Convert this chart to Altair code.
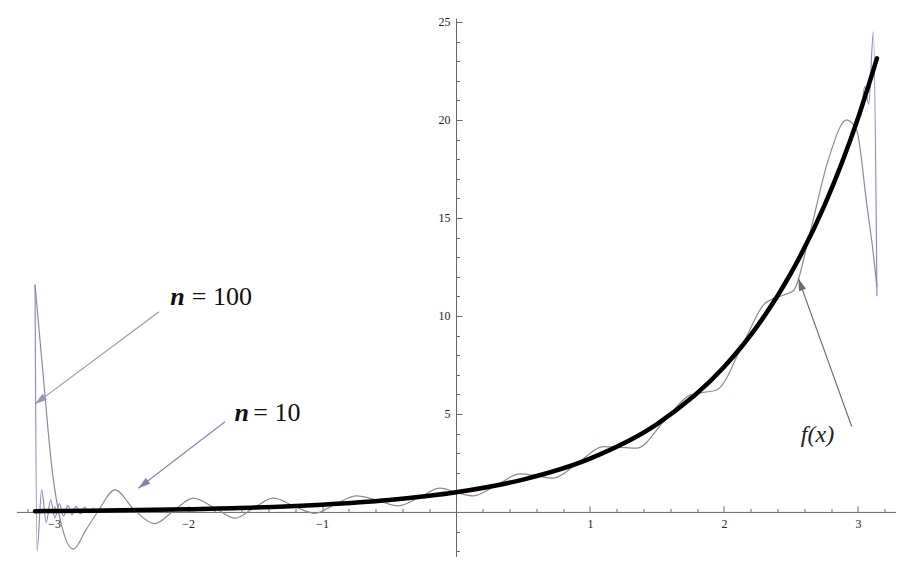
import math
import altair as alt
import pandas as pd

# ---------------- data ----------------
f_x = [-3.1416, -3.0, -2.5, -2.0, -1.5, -1.0, -0.5, 0.0, 0.5, 1.0, 1.5, 2.0, 2.25, 2.5, 2.75, 3.0, 3.1416]
f_y = [0.04, 0.05, 0.08, 0.14, 0.22, 0.37, 0.61, 1.0, 1.65, 2.72, 4.48, 7.39, 9.49, 12.18, 15.64, 20.09, 23.14]

n10_x = [-3.1416, -3.08, -3.017, -2.95, -2.856, -2.76, -2.669, -2.545, -2.40, -2.25, -2.10, -1.96,
         -1.80, -1.649, -1.50, -1.363, -1.21, -1.052, -0.90, -0.741, -0.59, -0.43, -0.27, -0.119,
         0.0, 0.129, 0.30, 0.478, 0.60, 0.726, 0.91, 1.10, 1.22, 1.348, 1.55, 1.746, 1.85, 1.945,
         2.15, 2.30, 2.42, 2.52, 2.64, 2.78, 2.915, 2.99, 3.065, 3.114, 3.1416]
n10_y = [11.59, 6.9, 2.31, -0.5, -1.90, -0.9, 0.06, 1.12, 0.1, -0.60, 0.1, 0.70,
         0.2, -0.32, 0.25, 0.70, 0.3, -0.07, 0.4, 0.82, 0.6, 0.31, 0.75, 1.21,
         1.0, 0.82, 1.35, 1.94, 1.85, 1.72, 2.5, 3.33, 3.3, 3.25, 4.6, 5.96, 6.1, 6.22,
         8.7, 10.6, 11.0, 11.3, 14.2, 18.0, 20.0, 19.47, 15.73, 13.2, 11.48]

n100_x = [-3.1416, -3.127, -3.092, -3.058, -3.025, -2.993, -2.960, -2.929, -2.897, -2.866, -2.836,
          -2.802, -2.772, -2.739, -2.709, -2.679, -2.649, -2.62, -2.59, -2.5, -2.0, -1.5, -1.0,
          -0.5, 0.0, 0.5, 1.0, 1.5, 2.0, 2.5, 2.8, 2.95, 2.99, 3.02, 3.05, 3.08, 3.115, 3.1416]
n100_y = [11.59, -2.0, 1.12, -0.55, 0.62, -0.30, 0.42, -0.22, 0.33, -0.15, 0.28,
          -0.10, 0.24, -0.05, 0.20, -0.01, 0.17, 0.03, 0.14, 0.08, 0.14, 0.22, 0.37,
          0.61, 1.0, 1.65, 2.72, 4.48, 7.39, 12.18, 16.4, 19.1, 20.1, 20.2, 21.7, 20.8, 24.5, 11.0]

x_major = [-3, -2, -1, 1, 2, 3]
x_minor = [-3.2, -2.8, -2.6, -2.4, -2.2, -1.8, -1.6, -1.4, -1.2, -0.8, -0.6, -0.4, -0.2,
           0.2, 0.4, 0.6, 0.8, 1.2, 1.4, 1.6, 1.8, 2.2, 2.4, 2.6, 2.8, 3.2]
y_major = [5, 10, 15, 20, 25]
y_minor = [-2, -1, 1, 2, 3, 4, 6, 7, 8, 9, 11, 12, 13, 14, 16, 17, 18, 19, 21, 22, 23, 24]

# annotations
arrow_names = ["n = 100", "n = 10", "f(x)"]
arrow_x1 = [-2.216, -1.724, 2.953]
arrow_y1 = [10.21, 4.60, 4.36]
arrow_x2 = [-3.142, -2.371, 2.555]
arrow_y2 = [5.50, 1.21, 11.91]

n_label_x = [-2.078, -1.599]
n_label_y = [10.55, 4.65]
eq_labels = ["= 100", "= 10"]
eq_label_x = [-1.972, -1.513]
eq_label_y = [10.55, 4.65]
fx_label = ["f(x)"]
fx_label_x = [2.698]
fx_label_y = [3.92]

# ---------------- layout ----------------
X_DOM = [-3.28, 3.28]
Y_DOM = [-2.3, 25.2]
W = 879
H = 539
PX = W / (X_DOM[1] - X_DOM[0])
PY = H / (Y_DOM[1] - Y_DOM[0])
X0 = -X_DOM[0] * PX          # pixel of x = 0 from left
Y0 = Y_DOM[1] * PY           # pixel of y = 0 from top

xs = alt.Scale(domain=X_DOM, nice=False, zero=False)
ys = alt.Scale(domain=Y_DOM, nice=False, zero=False)
SERIF = "Liberation Serif"
AX = "#6a6a6a"

f_df = pd.DataFrame({"x": f_x, "y": f_y})
n10_df = pd.DataFrame({"x": n10_x, "y": n10_y})
n100_df = pd.DataFrame({"x": n100_x, "y": n100_y})


def head_angle(x1, y1, x2, y2):
    dx = (x2 - x1) * PX
    dy = -(y2 - y1) * PY
    return math.degrees(math.atan2(dx, -dy)) % 360


arr_df = pd.DataFrame({"name": arrow_names, "x1": arrow_x1, "y1": arrow_y1,
                       "x2": arrow_x2, "y2": arrow_y2})
arr_df["ang"] = [head_angle(a, b, c, d) for a, b, c, d in zip(arrow_x1, arrow_y1, arrow_x2, arrow_y2)]

# axes
x_lab_axis = alt.Axis(orient="bottom", offset=-(H - Y0), values=x_major, ticks=False, tickSize=0,
                      domain=False, grid=False, labelPadding=7, labelFont=SERIF, labelFontSize=12,
                      labelColor="#222222", title=None)
y_lab_axis = alt.Axis(orient="left", offset=-X0, values=y_major, ticks=False, tickSize=0,
                      domain=False, grid=False, labelPadding=6, labelFont=SERIF, labelFontSize=12,
                      labelColor="#222222", title=None)
x_maj_axis = alt.Axis(orient="top", offset=-Y0, values=x_major, labels=False, tickSize=6,
                      tickColor=AX, domainColor=AX, grid=False, title=None)
y_maj_axis = alt.Axis(orient="right", offset=-(W - X0), values=y_major, labels=False, tickSize=6,
                      tickColor=AX, domainColor=AX, grid=False, title=None)
x_min_axis = alt.Axis(orient="top", offset=-Y0, values=x_minor, labels=False, tickSize=3.5,
                      tickColor=AX, domain=False, grid=False, title=None)
y_min_axis = alt.Axis(orient="right", offset=-(W - X0), values=y_minor, labels=False, tickSize=3.5,
                      tickColor=AX, domain=False, grid=False, title=None)

n100_line = alt.Chart(n100_df).mark_line(color="#8c8cc4", strokeWidth=1.2, interpolate="monotone").encode(
    x=alt.X("x:Q", scale=xs, axis=x_lab_axis),
    y=alt.Y("y:Q", scale=ys, axis=y_lab_axis),
    order="x:Q",
)
n10_line = alt.Chart(n10_df).mark_line(color="#9c8296", strokeWidth=1.2, interpolate="monotone").encode(
    x=alt.X("x:Q", scale=xs, axis=x_maj_axis),
    y=alt.Y("y:Q", scale=ys, axis=y_maj_axis),
    order="x:Q",
)
f_line = alt.Chart(f_df).mark_line(color="#000000", strokeWidth=4.5, interpolate="monotone",
                                   strokeCap="round").encode(
    x=alt.X("x:Q", scale=xs, axis=x_min_axis),
    y=alt.Y("y:Q", scale=ys, axis=y_min_axis),
    order="x:Q",
)

shaft_colors = alt.Scale(domain=arrow_names, range=["#9a93b8", "#8d7db2", "#6b6b6b"])
head_colors = alt.Scale(domain=arrow_names, range=["#4a3fa0", "#6a2c9c", "#111111"])

shafts = alt.Chart(arr_df).mark_rule(strokeWidth=1.1).encode(
    x=alt.X("x1:Q", scale=xs, axis=None), y=alt.Y("y1:Q", scale=ys, axis=None),
    x2="x2:Q", y2="y2:Q",
    color=alt.Color("name:N", scale=shaft_colors, legend=None),
)
heads = alt.Chart(arr_df).mark_point(shape="M0,0L-0.3,1L0.3,1Z", filled=True, opacity=1,
                                     size=600, strokeWidth=0).encode(
    x=alt.X("x2:Q", scale=xs, axis=None), y=alt.Y("y2:Q", scale=ys, axis=None),
    angle=alt.Angle("ang:Q", scale=None),
    color=alt.Color("name:N", scale=head_colors, legend=None),
)

n_df = pd.DataFrame({"x": n_label_x, "y": n_label_y, "t": ["n", "n"]})
eq_df = pd.DataFrame({"x": eq_label_x, "y": eq_label_y, "t": eq_labels})
fx_df = pd.DataFrame({"x": fx_label_x, "y": fx_label_y, "t": fx_label})

n_text = alt.Chart(n_df).mark_text(font=SERIF, fontSize=26, fontStyle="italic", fontWeight="bold",
                                   align="center", baseline="alphabetic", color="#111111").encode(
    x=alt.X("x:Q", scale=xs, axis=None), y=alt.Y("y:Q", scale=ys, axis=None), text="t:N")
eq_text = alt.Chart(eq_df).mark_text(font=SERIF, fontSize=26, align="left", baseline="alphabetic",
                                     color="#111111").encode(
    x=alt.X("x:Q", scale=xs, axis=None), y=alt.Y("y:Q", scale=ys, axis=None), text="t:N")
fx_text = alt.Chart(fx_df).mark_text(font=SERIF, fontSize=24, fontStyle="italic", align="center",
                                     baseline="middle", color="#222222").encode(
    x=alt.X("x:Q", scale=xs, axis=None), y=alt.Y("y:Q", scale=ys, axis=None), text="t:N")

chart = alt.layer(
    n100_line, n10_line, f_line, shafts, heads, n_text, eq_text, fx_text
).resolve_axis(x="independent", y="independent").properties(
    width=W, height=H,
    autosize=alt.AutoSizeParams(type="none"),
    padding={"left": 8.5, "top": 10, "right": 0, "bottom": 0},
    background="white",
).configure_view(stroke=None)

chart.save("out.html", embed_options={"renderer": "svg", "actions": False})
